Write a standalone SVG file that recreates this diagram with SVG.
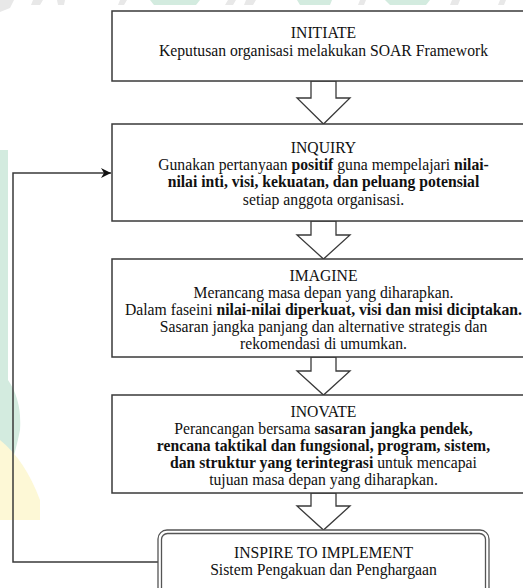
<svg xmlns="http://www.w3.org/2000/svg" width="523" height="588" viewBox="0 0 523 588">
<style>
.box{fill:#fff;stroke:#3a3a3a;stroke-width:1.5}
.arr{fill:#fff;stroke:#3a3a3a;stroke-width:1.3;stroke-linejoin:miter}
.t{font-family:'Liberation Serif','DejaVu Serif',serif;font-size:15.7px;fill:#111;text-anchor:middle}
.b{font-weight:bold}
.wg{fill:#d3ebdf}
.wy{fill:#fdf8d6}
.wgr{fill:#e8e8e8}
.line{fill:none;stroke:#3a3a3a;stroke-width:1.5}
</style>
<defs>
<marker id="ah" viewBox="0 0 10 10" refX="10" refY="5" markerWidth="10" markerHeight="10" markerUnits="userSpaceOnUse" orient="auto">
<path d="M0,0 L10,5 L0,10 L3,5 Z" fill="#111"/>
</marker>
</defs>
<rect width="523" height="588" fill="#fff"/>
<g id="watermark">
<polygon class="wg" points="150,0 200,0 196,5 154,5"/>
<polygon class="wg" points="297,0 332,0 330,5 300,5"/>
<polygon class="wg" points="385,0 430,0 426,5 390,5"/>
<polygon class="wgr" points="0,0 14,0 10,8 0,12"/>
<polygon class="wgr" points="33,0 43,0 40,5 31,5"/>
<polygon class="wgr" points="57,0 65,0 64,5 58,5"/>
<polygon class="wgr" points="120,0 127,0 124,5 118,5"/>
<polygon class="wgr" points="228,0 236,0 233,5 225,5"/>
<polygon class="wgr" points="246,0 256,0 253,5 244,5"/>
<polygon class="wgr" points="360,0 366,0 364,5 358,5"/>
<polygon class="wgr" points="452,0 460,0 458,5 450,5"/>
<polygon class="wgr" points="500,0 506,0 504,5 498,5"/>
<path class="wg" d="M0,150 L8,150 L8,380 Q22,400 20,430 Q14,460 8,470 L0,480 Z"/>
<path class="wy" d="M0,440 Q25,460 40,500 L40,520 L0,520 Z"/>
</g>
<g id="connectors">
<polygon class="arr" points="311,81 311,98 297,98 323.5,124 350,98 336,98 336,81"/>
<polygon class="arr" points="311,221 311,235 297,235 323.5,259 350,235 336,235 336,221"/>
<polygon class="arr" points="311,357 311,371 297,371 323.5,395 350,371 336,371 336,357"/>
<polygon class="arr" points="311,493 311,506 297,506 323.5,530 350,506 336,506 336,493"/>
<polyline class="line" points="158,562 13,562 13,173 111,173" marker-end="url(#ah)"/>
</g>
<g id="initiate">
<rect class="box" x="112" y="11" width="423" height="70"/>
<text class="t" x="323.5" y="38">INITIATE</text>
<text class="t" x="323.5" y="56">Keputusan organisasi melakukan SOAR Framework</text>
</g>
<g id="inquiry">
<rect class="box" x="112" y="124" width="423" height="97"/>
<text class="t" x="323.5" y="153">INQUIRY</text>
<text class="t" x="323.5" y="170">Gunakan pertanyaan <tspan class="b">positif</tspan> guna mempelajari <tspan class="b">nilai-</tspan></text>
<text class="t b" x="323.5" y="187">nilai inti, visi, kekuatan, dan peluang potensial</text>
<text class="t" x="323.5" y="205">setiap anggota organisasi.</text>
</g>
<g id="imagine">
<rect class="box" x="112" y="259" width="423" height="98"/>
<text class="t" x="323.5" y="281">IMAGINE</text>
<text class="t" x="323.5" y="298">Merancang masa depan yang diharapkan.</text>
<text class="t" x="323.5" y="315">Dalam faseini <tspan class="b">nilai-nilai diperkuat, visi dan misi diciptakan.</tspan></text>
<text class="t" x="323.5" y="332">Sasaran jangka panjang dan alternative strategis dan</text>
<text class="t" x="323.5" y="349">rekomendasi di umumkan.</text>
</g>
<g id="inovate">
<rect class="box" x="112" y="395" width="423" height="98"/>
<text class="t" x="323.5" y="417">INOVATE</text>
<text class="t" x="323.5" y="434">Perancangan bersama <tspan class="b">sasaran jangka pendek,</tspan></text>
<text class="t b" x="323.5" y="451">rencana taktikal dan fungsional, program, sistem,</text>
<text class="t" x="323.5" y="468"><tspan class="b">dan struktur yang terintegrasi</tspan> untuk mencapai</text>
<text class="t" x="323.5" y="485">tujuan masa depan yang diharapkan.</text>
</g>
<g id="inspire">
<rect x="158" y="530" width="331" height="70" rx="9" fill="#fff" stroke="#555" stroke-width="1.3"/>
<rect x="161.5" y="533.5" width="324" height="63" rx="6" fill="#fff" stroke="#555" stroke-width="1.3"/>
<text class="t" x="323.5" y="558">INSPIRE TO IMPLEMENT</text>
<text class="t" x="323.5" y="575">Sistem Pengakuan dan Penghargaan</text>
</g>
</svg>
